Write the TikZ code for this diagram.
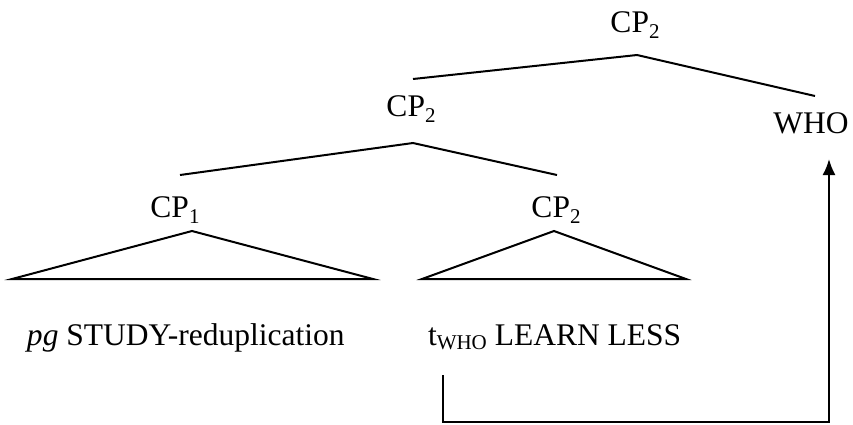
\documentclass[tikz,border=0pt]{standalone}
\usepackage{fontspec}
\setmainfont{Liberation Serif}
\usetikzlibrary{arrows.meta}
\newcommand{\lbl}[2]{#1\raisebox{-0.22em}{\fontsize{21}{23}\selectfont #2}}
\begin{document}
\begin{tikzpicture}[x=1pt,y=-1pt,
  every node/.style={inner sep=0pt,outer sep=0pt,anchor=base,font=\fontsize{31.5}{38}\selectfont},
  branch/.style={line width=2pt,line join=miter},
  move/.style={line width=2pt,-{Latex[length=16pt,width=13pt]}}]
\useasboundingbox (0,0) rectangle (853,424);
% labels
\node (top) at (635,32) {\lbl{CP}{2}};
\node (mid) at (411,116) {\lbl{CP}{2}};
\node (who) at (811,133) {WHO};
\node (cpone) at (175,217) {\lbl{CP}{1}};
\node (cptwo) at (556,217) {\lbl{CP}{2}};
\node[anchor=base west] (left) at (27,345) {\textit{pg} STUDY-reduplication};
\node[anchor=base west] (right) at (428,345) {t\raisebox{-0.15em}{\fontsize{21}{23}\selectfont WHO} LEARN LESS};
% tree coordinates
\coordinate (topA) at (637,55);
\coordinate (topL) at (413,79);
\coordinate (topR) at (815,96);
\coordinate (midA) at (413,143);
\coordinate (midL) at (180,175);
\coordinate (midR) at (557,175);
\coordinate (t1A) at (192,231);
\coordinate (t1L) at (12,279);
\coordinate (t1R) at (373,279);
\coordinate (t2A) at (554,231);
\coordinate (t2L) at (422,279);
\coordinate (t2R) at (686,279);
\coordinate (trace) at (443,375);
\coordinate (corner1) at (443,422);
\coordinate (corner2) at (829,422);
\coordinate (tip) at (829,159);
% branches
\draw[branch] (topL) -- (topA) -- (topR);
\draw[branch] (midL) -- (midA) -- (midR);
\draw[branch] (t1L) -- (t1A) -- (t1R) -- cycle;
\draw[branch] (t2L) -- (t2A) -- (t2R) -- cycle;
% movement arrow
\draw[move] (trace) -- (corner1) -- (corner2) -- (tip);
\end{tikzpicture}
\end{document}
